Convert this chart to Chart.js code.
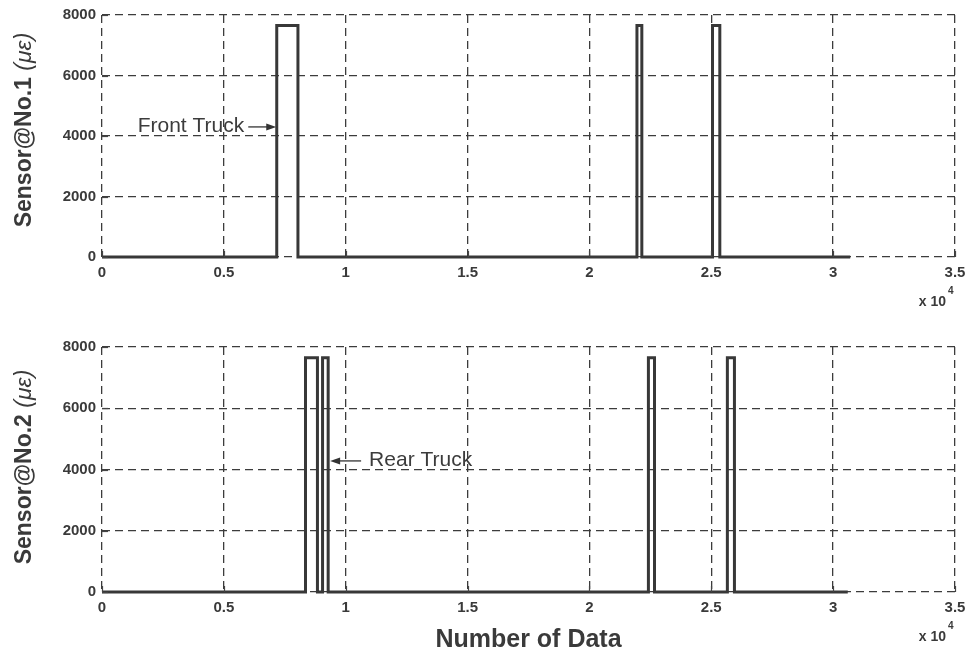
<!DOCTYPE html>
<html>
<head>
<meta charset="utf-8">
<script src="https://cdn.jsdelivr.net/npm/chart.js@4"></script>
<style>
body { margin: 0; background: #fff; width: 973px; height: 659px; overflow: hidden; }
.box { position: absolute; left: 0; }
</style>
</head>
<body>
<div class="box" style="top:0"><canvas id="sensor1" width="973" height="330"></canvas></div>
<div class="box" style="top:330px"><canvas id="sensor2" width="973" height="329"></canvas></div>
<script>
// x axis is "number of data", labels shown in units of 10^4
const xTicks = [0, 5000, 10000, 15000, 20000, 25000, 30000, 35000]
const xTickLabels = ['0', '0.5', '1', '1.5', '2', '2.5', '3', '3.5']
const yTicks = [0, 2000, 4000, 6000, 8000]
const yTickLabels = ['0', '2000', '4000', '6000', '8000']

// square pulses (corner points of the trace)
const sensor1X = [0, 7170, 7170, 8040, 8040, 21950, 21950, 22150, 22150, 25050, 25050, 25350, 25350, 30700]
const sensor1Y = [0, 0, 7650, 7650, 0, 0, 7650, 7650, 0, 0, 7650, 7650, 0, 0]
const sensor2X = [0, 8350, 8350, 8840, 8840, 9050, 9050, 9280, 9280, 22420, 22420, 22670, 22670, 25660, 25660, 25950, 25950, 30600]
const sensor2Y = [0, 0, 7650, 7650, 0, 0, 7650, 7650, 0, 0, 7650, 7650, 0, 0, 7650, 7650, 0, 0]

const ink = '#3a3a3a'
const tickFont = { family: 'Liberation Sans, Arial, sans-serif', size: 15, weight: 'bold' }

// y label with italic units, "x 10^4" note, inward ticks and arrows
const extras = {
    id: 'extras',
    afterDraw(chart, args, o) {
        const { ctx, chartArea: a, scales: { x, y } } = chart
        ctx.save()
        ctx.strokeStyle = '#444'
        ctx.lineWidth = 1.2
        xTicks.forEach(v => {
            const px = Math.round(x.getPixelForValue(v)) + 0.5
            ctx.beginPath(); ctx.moveTo(px, a.bottom); ctx.lineTo(px, a.bottom - 6); ctx.stroke()
        })
        yTicks.forEach(v => {
            const py = Math.round(y.getPixelForValue(v)) + 0.5
            ctx.beginPath(); ctx.moveTo(a.left, py); ctx.lineTo(a.left + 6, py); ctx.stroke()
        })

        // rotated y label
        ctx.fillStyle = ink
        ctx.textBaseline = 'middle'
        ctx.textAlign = 'left'
        const f1 = 'bold 23px Liberation Sans, Arial, sans-serif'
        const f2 = 'italic 23px Liberation Sans, Arial, sans-serif'
        ctx.font = f1
        const w1 = ctx.measureText(o.label).width
        ctx.font = f2
        const w2 = ctx.measureText(' (με)').width
        ctx.save()
        ctx.translate(o.labelX, o.labelY)
        ctx.rotate(-Math.PI / 2)
        ctx.font = f1
        ctx.fillText(o.label, -(w1 + w2) / 2, 0)
        ctx.font = f2
        ctx.fillText(' (με)', -(w1 + w2) / 2 + w1, 0)
        ctx.restore()

        // x 10^4
        ctx.font = 'bold 14px Liberation Sans, Arial, sans-serif'
        ctx.textAlign = 'right'
        ctx.textBaseline = 'alphabetic'
        ctx.fillText('x 10', a.right - 9, a.bottom + 49)
        ctx.font = 'bold 10px Liberation Sans, Arial, sans-serif'
        ctx.textAlign = 'left'
        ctx.fillText('4', a.right - 7, a.bottom + 37)

        // annotation arrow
        const n = o.note
        const tx = x.getPixelForValue(n.x)
        const ty = y.getPixelForValue(n.y)
        const dir = n.side === 'left' ? -1 : 1
        const tail = tx + dir * n.len
        ctx.strokeStyle = '#333'
        ctx.fillStyle = '#333'
        ctx.lineWidth = 1.3
        ctx.beginPath(); ctx.moveTo(tail, ty); ctx.lineTo(tx + dir * 8, ty); ctx.stroke()
        ctx.beginPath(); ctx.moveTo(tx, ty); ctx.lineTo(tx + dir * 10, ty - 3.5); ctx.lineTo(tx + dir * 10, ty + 3.5); ctx.closePath(); ctx.fill()
        ctx.font = '21px Liberation Sans, Arial, sans-serif'
        ctx.fillStyle = '#3c3c3c'
        ctx.textBaseline = 'middle'
        ctx.textAlign = n.side === 'left' ? 'right' : 'left'
        ctx.fillText(n.text, tail + dir * n.gap, ty - 1)
        ctx.restore()
    }
}

function sensorChart(id, xs, ys, setup) {
    const ctx = document.getElementById(id)
    return new Chart(ctx, {
        type: 'line',
        data: {
            datasets: [{
                data: xs.map((v, i) => ({ x: v, y: ys[i] })),
                borderColor: '#383838',
                borderWidth: 3,
                pointRadius: 0,
                tension: 0,
                fill: false,
                clip: 4
            }]
        },
        options: {
            responsive: false,
            animation: false,
            events: [],
            layout: { padding: { left: 0, top: setup.top, right: 18, bottom: 0 } },
            plugins: {
                legend: { display: false },
                tooltip: { enabled: false },
                extras: setup.extras
            },
            scales: {
                x: {
                    type: 'linear',
                    min: 0,
                    max: 35000,
                    afterBuildTicks: s => { s.ticks = xTicks.map(v => ({ value: v })) },
                    afterFit: s => { s.height = setup.xHeight },
                    grid: { color: '#3c3c3c', lineWidth: 1.3, drawTicks: false },
                    border: { display: false, dash: [8, 5] },
                    ticks: {
                        padding: 7,
                        color: ink,
                        font: tickFont,
                        maxRotation: 0,
                        callback: (v, i) => xTickLabels[i]
                    },
                    title: setup.xTitle
                },
                y: {
                    min: 0,
                    max: 8000,
                    afterBuildTicks: s => { s.ticks = yTicks.map(v => ({ value: v })) },
                    afterFit: s => { s.width = 102 },
                    grid: { color: '#3c3c3c', lineWidth: 1.3, drawTicks: false },
                    border: { display: false, dash: [8, 5] },
                    ticks: { padding: 6, color: ink, font: tickFont, callback: (v, i) => yTickLabels[i] }
                }
            }
        },
        plugins: [extras]
    })
}

sensorChart('sensor1', sensor1X, sensor1Y, {
    top: 14,
    xHeight: 73,
    xTitle: { display: false },
    extras: {
        label: 'Sensor@No.1',
        labelX: 25, labelY: 130,
        note: { text: 'Front Truck', x: 7150, y: 4300, side: 'left', len: 28, gap: 4 }
    }
})

sensorChart('sensor2', sensor2X, sensor2Y, {
    top: 17,
    xHeight: 67,
    xTitle: {
        display: true,
        text: 'Number of Data',
        color: ink,
        font: { family: 'Liberation Sans, Arial, sans-serif', size: 25, weight: 'bold' },
        padding: { top: 0, bottom: 4 }
    },
    extras: {
        label: 'Sensor@No.2',
        labelX: 25, labelY: 137,
        note: { text: 'Rear Truck', x: 9360, y: 4280, side: 'right', len: 31, gap: 8 }
    }
})
</script>
</body>
</html>
